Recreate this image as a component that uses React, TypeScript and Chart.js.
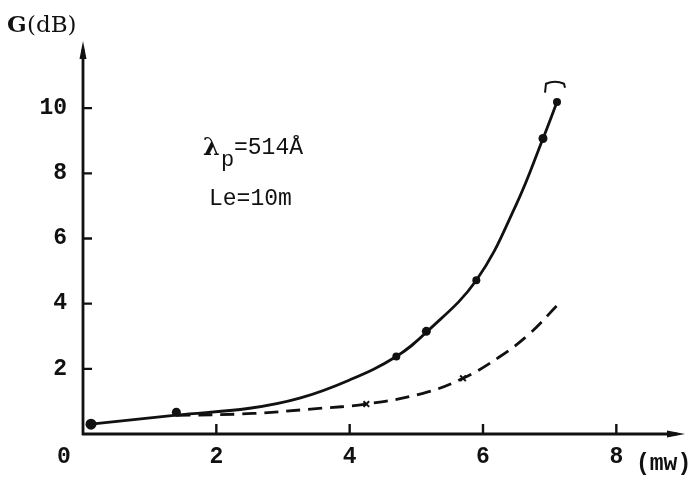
import React, { useEffect, useRef } from "react";
import { Chart, registerables } from "chart.js";

Chart.register(...registerables);

// Axis ticks
const xTickValues = [2, 4, 6, 8];
const yTickValues = [2, 4, 6, 8, 10];

// Solid curve (G vs pump power)
const solidCurveX = [0.12, 1.4, 2.5, 3.25, 4.0, 4.7, 5.15, 5.9, 6.5, 6.9, 7.11];
const solidCurveY = [0.3, 0.58, 0.79, 1.1, 1.66, 2.38, 3.12, 4.72, 7.05, 9.07, 10.19];
// Measured points on the solid curve
const solidPointsX = [0.12, 1.4, 4.7, 5.15, 5.9, 6.9, 7.11];
const solidPointsY = [0.3, 0.67, 2.38, 3.15, 4.72, 9.07, 10.19];

// Dashed curve
const dashedCurveX = [1.4, 2.55, 3.5, 4.25, 5.1, 5.7, 6.25, 6.7, 7.11];
const dashedCurveY = [0.57, 0.63, 0.78, 0.92, 1.25, 1.71, 2.37, 3.08, 3.94];
const dashedPointsX = [4.25, 5.7];
const dashedPointsY = [0.92, 1.71];

// Bracket mark above the last point
const bracketX = [7.08];
const bracketY = [10.75];

const INK = "#111";
const MONO = "'Liberation Mono', 'DejaVu Sans Mono', monospace";
const SERIF = "'DejaVu Serif', 'Liberation Serif', serif";

const zip = (xs: number[], ys: number[]) => xs.map((x, i) => ({ x, y: ys[i] }));

const decorPlugin = {
  id: "decor",
  afterDraw(chart: any) {
    const ctx = chart.ctx as CanvasRenderingContext2D;
    const xs = chart.scales.x;
    const ys = chart.scales.y;
    const x0 = xs.getPixelForValue(0);
    const y0 = ys.getPixelForValue(0);
    const xEnd = xs.getPixelForValue(9);
    const yEnd = ys.getPixelForValue(12);
    ctx.save();
    ctx.strokeStyle = INK;
    ctx.fillStyle = INK;
    ctx.lineWidth = 2.8;
    ctx.lineCap = "butt";
    // axes
    ctx.beginPath();
    ctx.moveTo(x0, y0 + 1);
    ctx.lineTo(x0, yEnd + 6);
    ctx.moveTo(x0 - 1, y0);
    ctx.lineTo(xEnd - 6, y0);
    ctx.stroke();
    // arrow heads
    ctx.beginPath();
    ctx.moveTo(x0, yEnd - 2);
    ctx.lineTo(x0 - 3.5, yEnd + 16);
    ctx.lineTo(x0 + 3.5, yEnd + 16);
    ctx.closePath();
    ctx.fill();
    ctx.beginPath();
    ctx.moveTo(xEnd + 2, y0);
    ctx.lineTo(xEnd - 16, y0 - 3.5);
    ctx.lineTo(xEnd - 16, y0 + 3.5);
    ctx.closePath();
    ctx.fill();
    // inward ticks
    ctx.lineWidth = 2.4;
    ctx.beginPath();
    for (const v of yTickValues) {
      const p = ys.getPixelForValue(v);
      ctx.moveTo(x0, p);
      ctx.lineTo(x0 + 9, p);
    }
    for (const v of xTickValues) {
      const p = xs.getPixelForValue(v);
      ctx.moveTo(p, y0);
      ctx.lineTo(p, y0 - 10);
    }
    ctx.stroke();
    // bracket
    const bx = xs.getPixelForValue(bracketX[0]);
    const by = ys.getPixelForValue(bracketY[0]);
    ctx.lineWidth = 2;
    ctx.beginPath();
    ctx.moveTo(bx - 10, by + 9);
    ctx.lineTo(bx - 9, by);
    ctx.quadraticCurveTo(bx, by - 4, bx + 9, by);
    ctx.lineTo(bx + 10, by + 4);
    ctx.stroke();

    // texts
    ctx.textBaseline = "alphabetic";
    // origin 0
    ctx.font = `bold 23px ${MONO}`;
    ctx.textAlign = "center";
    ctx.fillText("0", x0 - 19, y0 + 29);
    // (mw)
    ctx.font = `bold 23px ${MONO}`;
    ctx.textAlign = "left";
    ctx.fillText("(mw)", 636, 470);
    // G(dB)
    ctx.font = `bold 23px ${SERIF}`;
    ctx.fillText("G", 7, 32);
    ctx.font = `23px ${SERIF}`;
    ctx.fillText("(dB)", 27, 32);
    // lambda_p = 514 Å
    ctx.font = `bold 24px ${SERIF}`;
    ctx.fillText("λ", 203, 155);
    ctx.font = `22px ${MONO}`;
    ctx.fillText("p", 221, 166);
    ctx.font = `23px ${MONO}`;
    ctx.fillText("=514Å", 234, 154);
    ctx.fillText("Le=10m", 209, 205);
    ctx.restore();
  },
};

export default function App() {
  const ref = useRef<HTMLCanvasElement | null>(null);
  useEffect(() => {
    if (!ref.current) return;
    const chart = new Chart(ref.current, {
      type: "scatter",
      data: {
        datasets: [
          {
            data: zip(solidCurveX, solidCurveY),
            showLine: true,
            borderColor: INK,
            borderWidth: 2.8,
            pointRadius: 0,
            tension: 0.4,
          } as any,
          {
            data: zip(dashedCurveX, dashedCurveY),
            showLine: true,
            borderColor: INK,
            borderWidth: 2.8,
            borderDash: [14, 8],
            pointRadius: 0,
            tension: 0.4,
          } as any,
          {
            data: zip(solidPointsX, solidPointsY),
            showLine: false,
            pointRadius: [5.5, 4.5, 4, 4.5, 4, 4.5, 4],
            backgroundColor: INK,
            borderColor: INK,
            borderWidth: 0,
          } as any,
          {
            data: zip(dashedPointsX, dashedPointsY),
            showLine: false,
            pointStyle: "crossRot",
            pointRadius: 4,
            borderColor: INK,
            borderWidth: 2,
          } as any,
        ],
      },
      options: {
        animation: false,
        responsive: false,
        events: [],
        layout: { padding: { top: 43, right: 14, left: 0, bottom: 0 } },
        plugins: { legend: { display: false }, tooltip: { enabled: false } },
        scales: {
          x: {
            type: "linear",
            min: 0,
            max: 9,
            grid: { display: false, drawTicks: false },
            border: { display: false },
            afterBuildTicks: (s: any) => {
              s.ticks = xTickValues.map((v) => ({ value: v }));
            },
            afterFit: (s: any) => {
              s.height = 43;
            },
            ticks: {
              color: INK,
              padding: 9,
              font: { family: MONO, size: 23, weight: "bold" },
              maxRotation: 0,
            },
          },
          y: {
            type: "linear",
            min: 0,
            max: 12,
            grid: { display: false, drawTicks: false },
            border: { display: false },
            afterBuildTicks: (s: any) => {
              s.ticks = yTickValues.map((v) => ({ value: v }));
            },
            afterFit: (s: any) => {
              s.width = 83;
            },
            ticks: {
              color: INK,
              padding: 16,
              font: { family: MONO, size: 23, weight: "bold" },
            },
          },
        },
      },
      plugins: [decorPlugin],
    });
    return () => chart.destroy();
  }, []);
  return (
    <div style={{ position: "absolute", left: 0, top: 0, width: 697, height: 477, background: "#fff" }}>
      <canvas ref={ref} width={697} height={477} />
    </div>
  );
}
